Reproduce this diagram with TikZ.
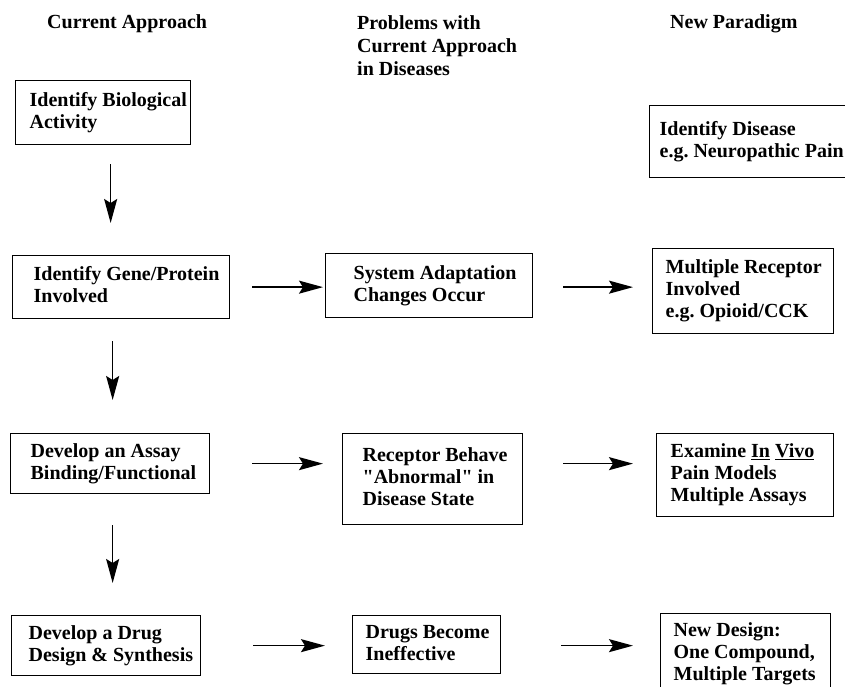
\documentclass[tikz,border=0pt]{standalone}
\usepackage{fontspec}
\setmainfont{Liberation Serif}
\newfontfamily\qf{Liberation Serif}[Ligatures=TeXOff]
\usetikzlibrary{arrows.meta}
\frenchspacing
\newcommand\bt[3]{\makebox[#1pt][l]{\hspace*{#2pt}\begin{tabular}{@{}l@{}}#3\end{tabular}}}
\newcommand\sq{{\qf\bfseries"}}
\begin{document}
\begin{tikzpicture}[x=1pt,y=-1pt,
  box/.style={draw, line width=1.3pt, inner sep=0pt, anchor=north west,
    font=\bfseries\fontsize{20}{22}\selectfont\frenchspacing},
  hdr/.style={inner sep=0pt, align=left, font=\bfseries\fontsize{20}{23}\selectfont},
  arr/.style={line width=1.6pt, -{Stealth[length=24pt,width=13pt,inset=4pt]}}]
\clip (0,0) rectangle (845,687);
% headers
\node[hdr, anchor=base west] (h1) at (47,29) {Current Approach};
\node[hdr, anchor=north west] (h2) at (357,15) {Problems with\\Current Approach\\in Diseases};
\node[hdr, anchor=base west] (h3) at (670,29) {New Paradigm};
% column 1
\node[box, minimum height=64pt] (B1) at (15,80) {\bt{175}{14}{Identify Biological\\Activity}};
\node[box, minimum height=63pt] (B2) at (12,255) {\bt{217}{21}{Identify Gene/Protein\\Involved}};
\node[box, minimum height=60pt] (B3) at (10,433) {\bt{199}{20}{Develop an Assay\\Binding/Functional}};
\node[box, minimum height=60pt] (B4) at (11,615) {\bt{189}{17}{Develop a Drug\\Design \& Synthesis}};
% column 2
\node[box, minimum height=64pt] (S1) at (325,253) {\bt{207}{28}{System Adaptation\\Changes Occur}};
\node[box, minimum height=91pt] (S2) at (342,433) {\bt{180}{20}{Receptor Behave\\\sq Abnormal\sq{} in\\Disease State}};
\node[box, minimum height=58pt] (S3) at (352,615) {\bt{148}{13}{Drugs Become\\Ineffective}};
% column 3
\node[box, minimum height=72pt] (N0) at (649,105) {\bt{230}{10}{Identify Disease\\e.g. Neuropathic Pain}};
\node[box, minimum height=85pt] (N1) at (652,248) {\bt{181}{13}{Multiple Receptor\\Involved\\e.g. Opioid/CCK}};
\node[box, minimum height=83pt] (N2) at (656,433) {\bt{177}{14}{Examine \underline{In} \underline{Vivo}\\Pain Models\\Multiple Assays}};
\node[box, minimum height=80pt] (N3) at (660,613) {\bt{170}{13}{New Design:\\One Compound,\\Multiple Targets}};
% vertical arrows
\draw[arr] ([xshift=7.5pt,yshift=-19pt]B1.south) -- ([xshift=7.5pt,yshift=32pt]B1.south |- B2.north);
\draw[arr] ([xshift=-8.5pt,yshift=-22pt]B2.south) -- ([xshift=-8.5pt,yshift=33pt]B2.south |- B3.north);
\draw[arr] ([xshift=2.5pt,yshift=-31pt]B3.south) -- ([xshift=2.5pt,yshift=32pt]B3.south |- B4.north);
% horizontal arrows
\draw[arr, shorten <=22pt, shorten >=2pt] (B2.east) -- (B2.east -| S1.west);
\draw[arr, shorten <=30pt, shorten >=19pt] (S1.east |- B2.east) -- (B2.east -| N1.west);
\draw[arr, shorten <=42pt, shorten >=19pt] (B3.east) -- (B3.east -| S2.west);
\draw[arr, shorten <=40pt, shorten >=23pt] (S2.east |- B3.east) -- (B3.east -| N2.west);
\draw[arr, shorten <=52pt, shorten >=27pt] (B4.east) -- (B4.east -| S3.west);
\draw[arr, shorten <=60pt, shorten >=27pt] (S3.east |- B4.east) -- (B4.east -| N3.west);
\end{tikzpicture}
\end{document}
